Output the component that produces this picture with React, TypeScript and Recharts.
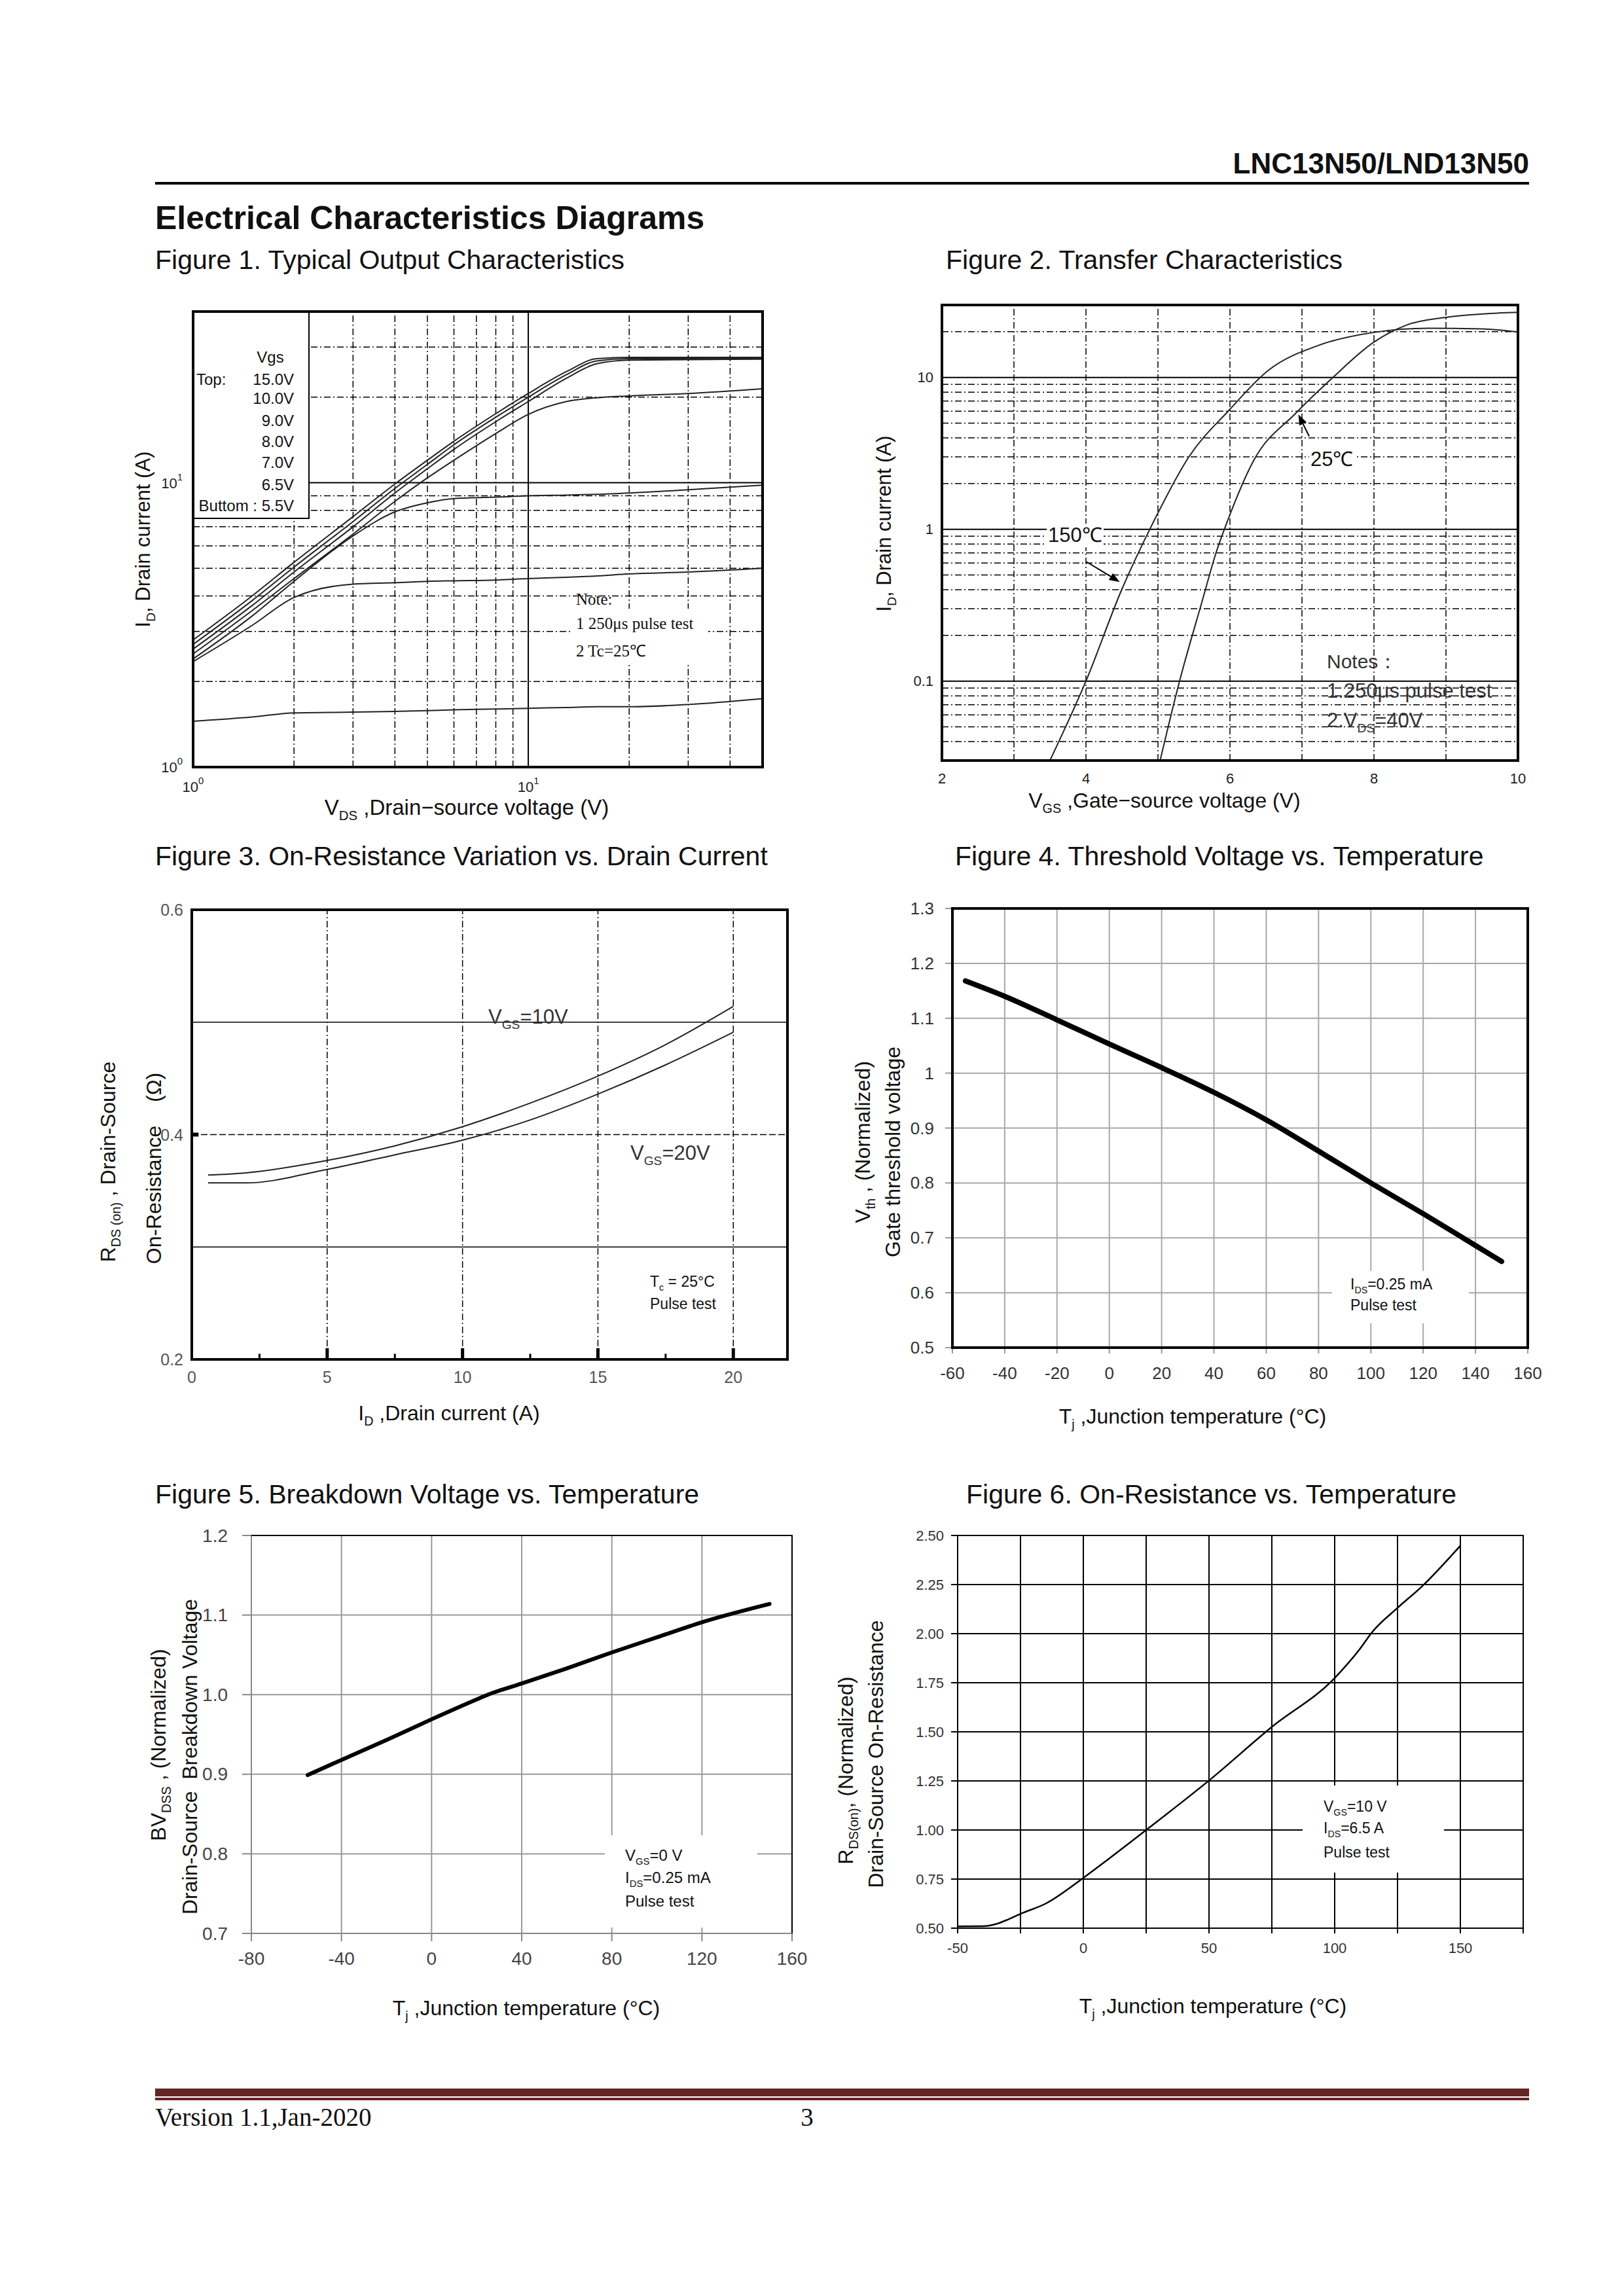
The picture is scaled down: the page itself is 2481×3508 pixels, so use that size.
import React from "react";
import type { CSSProperties, ReactNode } from "react";
import { LineChart, Line, XAxis, YAxis, CartesianGrid, ReferenceLine } from "recharts";

const FONT = "'Liberation Sans', Arial, Helvetica, sans-serif";
const SERIF = "'Liberation Serif', 'Times New Roman', serif";

// ---------- data ----------
// Figure 1: output characteristics (log-log)
const fig1Vds = [1, 1.5, 2, 3, 4, 5, 6, 8, 10, 13, 16, 20, 30, 50];
const fig1Id150 = [2.8, 4.0, 5.25, 7.6, 9.9, 12.0, 14.0, 17.5, 20.6, 24.6, 27.3, 27.6, 27.6, 27.6];
const fig1Id100 = [2.7, 3.85, 5.05, 7.3, 9.55, 11.6, 13.6, 17.0, 20.0, 24.0, 26.8, 27.3, 27.3, 27.4];
const fig1Id90 = [2.6, 3.7, 4.85, 7.0, 9.2, 11.2, 13.1, 16.4, 19.3, 23.3, 26.2, 27.0, 27.1, 27.2];
const fig1Id80 = [2.5, 3.55, 4.6, 6.6, 8.6, 10.4, 12.0, 14.9, 17.4, 19.3, 19.9, 20.2, 20.6, 21.4];
const fig1Id70 = [2.4, 3.4, 4.5, 6.5, 7.9, 8.5, 8.8, 8.9, 9.0, 9.05, 9.1, 9.2, 9.45, 9.8];
const fig1Id65 = [2.35, 3.15, 3.95, 4.4, 4.45, 4.5, 4.52, 4.55, 4.6, 4.65, 4.7, 4.78, 4.85, 5.0];
const fig1Id55 = [1.45, 1.5, 1.55, 1.56, 1.57, 1.58, 1.59, 1.6, 1.61, 1.62, 1.63, 1.63, 1.66, 1.74];
const fig1Legend = ["15.0V", "10.0V", "9.0V", "8.0V", "7.0V", "6.5V"];
const fig1Ticks = [1, 10];
const fig1GridX = [2, 3, 4, 5, 6, 7, 8, 9, 20, 30, 40];
const fig1GridY = [2, 3, 4, 5, 6, 7, 8, 9, 20, 30];

// Figure 2: transfer characteristics
const fig2Vgs25 = [5.03, 5.3, 5.62, 5.8, 6.0, 6.33, 6.91, 7.41, 8.0, 8.46, 8.95, 9.5, 10];
const fig2Id25 = [0.03, 0.1, 0.344, 0.684, 1.25, 2.84, 5.79, 9.8, 17.1, 22.2, 24.7, 26.2, 26.8];
const fig2Vgs150 = [3.5, 4.0, 4.5, 4.93, 5.43, 5.99, 6.54, 7.22, 8.0, 8.76, 9.5, 10];
const fig2Id150 = [0.03, 0.1, 0.404, 1.1, 3.0, 6.1, 11.2, 16.2, 19.8, 21.1, 20.9, 19.9];
const fig2XTicks = [2, 4, 6, 8, 10];
const fig2YTicks = [0.1, 1, 10];
const fig2GridX = [3, 4, 5, 6, 7, 8, 9];
const fig2GridYSolid = [0.1, 1, 10];
const fig2GridYDash = [0.04, 0.05, 0.06, 0.07, 0.08, 0.09, 0.2, 0.3, 0.4, 0.5, 0.6, 0.7, 0.8, 0.9, 2, 3, 4, 5, 6, 7, 8, 9, 20];
const fig2Arrow25 = [{ x: 7.1, y: 4.1 }, { x: 6.95, y: 5.7 }];
const fig2Arrow150 = [{ x: 4.01, y: 0.61 }, { x: 4.47, y: 0.45 }];

// Figure 3: on-resistance vs drain current
const fig3Id = [0.6, 2, 5, 7.5, 10, 12.5, 15, 17.5, 20];
const fig3R10 = [0.364, 0.366, 0.377, 0.39, 0.407, 0.428, 0.452, 0.48, 0.514];
const fig3R20 = [0.357, 0.357, 0.369, 0.382, 0.395, 0.413, 0.436, 0.462, 0.491];
const fig3XTicks = [0, 5, 10, 15, 20];
const fig3YTicks = [0.2, 0.4, 0.6];
const fig3GridX = [5, 10, 15, 20];
const fig3MinorX = [2.5, 7.5, 12.5, 17.5];

// Figure 4: threshold voltage vs temperature
const fig4T = [-55, -40, -20, 0, 20, 40, 60, 80, 100, 120, 140, 150];
const fig4Vth = [1.168, 1.14, 1.097, 1.053, 1.01, 0.965, 0.915, 0.858, 0.8, 0.744, 0.686, 0.657];
const fig4XTicks = [-60, -40, -20, 0, 20, 40, 60, 80, 100, 120, 140, 160];
const fig4YTicks = [0.5, 0.6, 0.7, 0.8, 0.9, 1.0, 1.1, 1.2, 1.3];

// Figure 5: breakdown voltage vs temperature
const fig5T = [-55, -40, -20, 0, 20, 25, 40, 60, 80, 100, 120, 150];
const fig5Bv = [0.899, 0.918, 0.943, 0.969, 0.994, 1.0, 1.014, 1.033, 1.053, 1.072, 1.091, 1.114];
const fig5XTicks = [-80, -40, 0, 40, 80, 120, 160];
const fig5YTicks = [0.7, 0.8, 0.9, 1.0, 1.1, 1.2];

// Figure 6: on-resistance vs temperature
const fig6T = [-50, -40, -35, -30, -25, -15, 0, 10, 25, 50, 75, 100, 110, 115, 125, 135, 150];
const fig6R = [0.509, 0.51, 0.52, 0.544, 0.573, 0.625, 0.756, 0.852, 1.0, 1.252, 1.525, 1.774, 1.922, 2.009, 2.131, 2.244, 2.448];
const fig6XTicks = [-50, -25, 0, 25, 50, 75, 100, 125, 150, 175];
const fig6YTicks = [0.5, 0.75, 1.0, 1.25, 1.5, 1.75, 2.0, 2.25, 2.5];

const rows = (xs: number[], ys: number[]) => xs.map((x, i) => ({ x, y: ys[i] }));

// ---------- layout helpers ----------
type Box = { L: number; T: number; W: number; H: number };
const PAD = { l: 150, t: 30, r: 30, b: 80 };

const fig1Box: Box = { L: 295, T: 476, W: 870, H: 696 };
const fig2Box: Box = { L: 1439, T: 466, W: 880, H: 696 };
const fig3Box: Box = { L: 293, T: 1390, W: 910, H: 687 };
const fig4Box: Box = { L: 1455, T: 1388, W: 879, H: 671 };
const fig5Box: Box = { L: 384, T: 2346, W: 826, H: 608 };
const fig6Box: Box = { L: 1463, T: 2346, W: 864, H: 600 };

type TickOpt = {
  size: number;
  color?: string;
  fmt?: (v: number) => string;
  dx?: number;
  dy?: number;
  anchor?: "start" | "middle" | "end";
  pow?: boolean;
};

const tick = (o: TickOpt) => (p: any) => {
  const v = p.payload.value;
  const s = o.fmt ? o.fmt(v) : String(v);
  if (s === "") return <g />;
  const x = p.x + (o.dx ?? 0);
  const y = p.y + (o.dy ?? 0);
  const common = {
    x,
    y,
    textAnchor: o.anchor ?? "middle",
    dominantBaseline: "central" as const,
    fontSize: o.size,
    fill: o.color ?? "#222",
    fontFamily: FONT,
  };
  if (o.pow) {
    return (
      <text {...common}>
        <tspan>10</tspan>
        <tspan dy={-o.size * 0.45} fontSize={o.size * 0.68}>
          {s}
        </tspan>
      </text>
    );
  }
  return <text {...common}>{s}</text>;
};

const Arrow = (p: any) => {
  const { x1, y1, x2, y2 } = p;
  const a = Math.atan2(y2 - y1, x2 - x1);
  const len = 16;
  const w = 6;
  const bx = x2 - len * Math.cos(a);
  const by = y2 - len * Math.sin(a);
  const pts = `${x2},${y2} ${bx - w * Math.sin(a)},${by + w * Math.cos(a)} ${bx + w * Math.sin(a)},${by - w * Math.cos(a)}`;
  return (
    <g>
      <line x1={x1} y1={y1} x2={bx} y2={by} stroke="#000" strokeWidth={2} />
      <polygon points={pts} fill="#000" />
    </g>
  );
};

function Frame({ box, children }: { box: Box; children: ReactNode }) {
  return (
    <div style={{ position: "absolute", left: box.L - PAD.l, top: box.T - PAD.t }}>
      <LineChart
        width={box.W + PAD.l + PAD.r}
        height={box.H + PAD.t + PAD.b}
        margin={{ top: PAD.t, right: PAD.r, bottom: 0, left: 0 }}
      >
        {children}
      </LineChart>
    </div>
  );
}

function Border({ box, w, style }: { box: Box; w: number; style?: CSSProperties }) {
  return (
    <div
      style={{
        position: "absolute",
        left: box.L - w / 2,
        top: box.T - w / 2,
        width: box.W + w,
        height: box.H + w,
        border: `${w}px solid #000`,
        boxSizing: "border-box",
        ...style,
      }}
    />
  );
}

function Txt({
  x,
  y,
  size,
  children,
  anchor = "start",
  family = FONT,
  weight = 400,
  color = "#111",
  style,
}: {
  x: number;
  y: number;
  size: number;
  children: ReactNode;
  anchor?: "start" | "middle" | "end";
  family?: string;
  weight?: number;
  color?: string;
  style?: CSSProperties;
}) {
  const tx = anchor === "middle" ? "-50%" : anchor === "end" ? "-100%" : "0";
  return (
    <div
      style={{
        position: "absolute",
        left: x,
        top: y,
        transform: `translate(${tx}, -50%)`,
        fontSize: size,
        fontFamily: family,
        fontWeight: weight,
        color,
        whiteSpace: "pre",
        lineHeight: 1.15,
        ...style,
      }}
    >
      {children}
    </div>
  );
}

function VTxt({ x, y, size, children }: { x: number; y: number; size: number; children: ReactNode }) {
  return (
    <div
      style={{
        position: "absolute",
        left: x,
        top: y,
        transform: "translate(-50%, -50%) rotate(-90deg)",
        fontSize: size,
        fontFamily: FONT,
        color: "#111",
        whiteSpace: "pre",
        lineHeight: 1.15,
      }}
    >
      {children}
    </div>
  );
}

function WhiteBox({ x1, y1, x2, y2 }: { x1: number; y1: number; x2: number; y2: number }) {
  return (
    <div style={{ position: "absolute", left: x1, top: y1, width: x2 - x1, height: y2 - y1, background: "#fff" }} />
  );
}

const Sub = ({ children }: { children: ReactNode }) => (
  <span style={{ fontSize: "0.62em", position: "relative", top: "0.4em" }}>{children}</span>
);

const DASH = "10 4 2 4";

// ---------- figures ----------
function Figure1() {
  const b = fig1Box;
  return (
    <>
      <Frame box={b}>
        <XAxis
          type="number"
          dataKey="x"
          scale="log"
          domain={[1, 50]}
          allowDataOverflow
          ticks={fig1Ticks}
          interval={0}
          axisLine={false}
          tickLine={false}
          tickSize={0}
          tickMargin={0}
          height={PAD.b}
          tick={tick({ size: 22, pow: true, dy: 30, fmt: (v) => String(Math.round(Math.log10(v))) })}
        />
        <YAxis
          type="number"
          scale="log"
          domain={[1, 40]}
          allowDataOverflow
          ticks={fig1Ticks}
          interval={0}
          axisLine={false}
          tickLine={false}
          tickSize={0}
          tickMargin={0}
          width={PAD.l}
          tick={tick({ size: 22, pow: true, anchor: "end", dx: -16, fmt: (v) => String(Math.round(Math.log10(v))) })}
        />
        {fig1GridX.map((v) => (
          <ReferenceLine key={"gx" + v} x={v} stroke="#000" strokeWidth={1.5} strokeDasharray={DASH} />
        ))}
        {fig1GridY.map((v) => (
          <ReferenceLine key={"gy" + v} y={v} stroke="#000" strokeWidth={1.5} strokeDasharray={DASH} />
        ))}
        <ReferenceLine x={10} stroke="#000" strokeWidth={2} />
        <ReferenceLine y={10} stroke="#000" strokeWidth={2} />
        {[fig1Id150, fig1Id100, fig1Id90, fig1Id80, fig1Id70, fig1Id65, fig1Id55].map((ys, i) => (
          <Line
            key={i}
            data={rows(fig1Vds, ys)}
            dataKey="y"
            type="monotone"
            stroke="#222"
            strokeWidth={2}
            dot={false}
            isAnimationActive={false}
          />
        ))}
      </Frame>
      {/* legend box */}
      <div
        style={{
          position: "absolute",
          left: b.L,
          top: b.T,
          width: 473 - b.L,
          height: 793 - b.T,
          background: "#fff",
          border: "2px solid #000",
          boxSizing: "border-box",
        }}
      />
      <Txt x={413} y={546} size={24} anchor="middle">Vgs</Txt>
      <Txt x={300} y={580} size={24}>Top:</Txt>
      {fig1Legend.map((s, i) => (
        <Txt key={s} x={449} y={[580, 609, 643, 675, 707, 741][i]} size={24} anchor="end">
          {s}
        </Txt>
      ))}
      <Txt x={449} y={773} size={24} anchor="end">Buttom : 5.5V</Txt>
      {/* note */}
      <WhiteBox x1={874} y1={930} x2={1082} y2={1012} />
      <Txt x={880} y={916} size={25} family={SERIF}>Note:</Txt>
      <Txt x={880} y={953} size={25} family={SERIF}>1 250μs pulse test</Txt>
      <Txt x={880} y={995} size={25} family={SERIF}>2 Tc=25℃</Txt>
      <Border box={b} w={4} />
      <VTxt x={219} y={824} size={31}>
        I<Sub>D</Sub>, Drain current (A)
      </VTxt>
      <Txt x={713} y={1234} size={33} anchor="middle">
        V<Sub>DS</Sub> ,Drain−source voltage (V)
      </Txt>
    </>
  );
}

function Figure2() {
  const b = fig2Box;
  return (
    <>
      <Frame box={b}>
        <XAxis
          type="number"
          dataKey="x"
          domain={[2, 10]}
          allowDataOverflow
          ticks={fig2XTicks}
          interval={0}
          axisLine={false}
          tickLine={false}
          tickSize={0}
          tickMargin={0}
          height={PAD.b}
          tick={tick({ size: 22, dy: 27 })}
        />
        <YAxis
          type="number"
          scale="log"
          domain={[0.03, 30]}
          allowDataOverflow
          ticks={fig2YTicks}
          interval={0}
          axisLine={false}
          tickLine={false}
          tickSize={0}
          tickMargin={0}
          width={PAD.l}
          tick={tick({ size: 22, anchor: "end", dx: -13 })}
        />
        {fig2GridX.map((v) => (
          <ReferenceLine key={"gx" + v} x={v} stroke="#000" strokeWidth={1.5} strokeDasharray={DASH} />
        ))}
        {fig2GridYDash.map((v) => (
          <ReferenceLine key={"gy" + v} y={v} stroke="#000" strokeWidth={1.5} strokeDasharray={DASH} />
        ))}
        {fig2GridYSolid.map((v) => (
          <ReferenceLine key={"gs" + v} y={v} stroke="#000" strokeWidth={2} />
        ))}
        <Line data={rows(fig2Vgs25, fig2Id25)} dataKey="y" type="monotone" stroke="#222" strokeWidth={2} dot={false} isAnimationActive={false} />
        <Line data={rows(fig2Vgs150, fig2Id150)} dataKey="y" type="monotone" stroke="#222" strokeWidth={2} dot={false} isAnimationActive={false} />
        <ReferenceLine segment={fig2Arrow25} shape={Arrow} />
        <ReferenceLine segment={fig2Arrow150} shape={Arrow} />
      </Frame>
      <Txt x={2000} y={702} size={31} style={{ background: "#fff", padding: "0 2px" }}>25℃</Txt>
      <Txt x={1599} y={818} size={31} style={{ background: "#fff", padding: "0 2px" }}>150℃</Txt>
      <Txt x={2027} y={1011} size={30} color="#333">Notes：</Txt>
      <Txt x={2027} y={1056} size={31} color="#333">1.250μs pulse test</Txt>
      <Txt x={2027} y={1101} size={31} color="#333">
        2.V<Sub>DS</Sub>=40V
      </Txt>
      <Border box={b} w={4} />
      <VTxt x={1351} y={800} size={31}>
        I<Sub>D</Sub>, Drain current (A)
      </VTxt>
      <Txt x={1779} y={1223} size={32} anchor="middle">
        V<Sub>GS</Sub> ,Gate−source voltage (V)
      </Txt>
    </>
  );
}

function Figure3() {
  const b = fig3Box;
  return (
    <>
      <Frame box={b}>
        <XAxis
          type="number"
          dataKey="x"
          domain={[0, 22]}
          allowDataOverflow
          ticks={fig3XTicks}
          interval={0}
          axisLine={false}
          tickLine={false}
          tickSize={0}
          tickMargin={0}
          height={PAD.b}
          tick={tick({ size: 25, color: "#555", dy: 27 })}
        />
        <YAxis
          type="number"
          domain={[0.2, 0.6]}
          allowDataOverflow
          ticks={fig3YTicks}
          interval={0}
          axisLine={false}
          tickLine={false}
          tickSize={0}
          tickMargin={0}
          width={PAD.l}
          tick={tick({ size: 25, color: "#555", anchor: "end", dx: -13 })}
        />
        {fig3GridX.map((v) => (
          <ReferenceLine key={"gx" + v} x={v} stroke="#000" strokeWidth={1.5} strokeDasharray={DASH} />
        ))}
        {fig3GridX.map((v) => (
          <ReferenceLine key={"mj" + v} segment={[{ x: v, y: 0.2 }, { x: v, y: 0.21 }]} stroke="#000" strokeWidth={5} />
        ))}
        {fig3MinorX.map((v) => (
          <ReferenceLine key={"mn" + v} segment={[{ x: v, y: 0.2 }, { x: v, y: 0.205 }]} stroke="#000" strokeWidth={3} />
        ))}
        <ReferenceLine segment={[{ x: 0, y: 0.4 }, { x: 0.25, y: 0.4 }]} stroke="#000" strokeWidth={6} />
        <ReferenceLine y={0.3} stroke="#000" strokeWidth={1.5} />
        <ReferenceLine y={0.5} stroke="#000" strokeWidth={1.5} />
        <ReferenceLine y={0.4} stroke="#000" strokeWidth={1.5} strokeDasharray="10 4" />
        <Line data={rows(fig3Id, fig3R10)} dataKey="y" type="monotone" stroke="#222" strokeWidth={2} dot={false} isAnimationActive={false} />
        <Line data={rows(fig3Id, fig3R20)} dataKey="y" type="monotone" stroke="#222" strokeWidth={2} dot={false} isAnimationActive={false} />
      </Frame>
      <Txt x={746} y={1554} size={31} color="#333">
        V<Sub>GS</Sub>=10V
      </Txt>
      <Txt x={963} y={1762} size={31} color="#333">
        V<Sub>GS</Sub>=20V
      </Txt>
      <Txt x={993} y={1958} size={23}>
        T<Sub>c</Sub> = 25°C
      </Txt>
      <Txt x={993} y={1992} size={23}>Pulse test</Txt>
      <Border box={b} w={4} />
      <VTxt x={165} y={1775} size={32}>
        R<Sub>DS (on)</Sub> , Drain-Source
      </VTxt>
      <VTxt x={235} y={1785} size={32}>{"On-Resistance    (Ω)"}</VTxt>
      <Txt x={686} y={2159} size={32} anchor="middle">
        I<Sub>D</Sub> ,Drain current (A)
      </Txt>
    </>
  );
}

function Figure4() {
  const b = fig4Box;
  return (
    <>
      <Frame box={b}>
        <CartesianGrid stroke="#a8a8a8" strokeWidth={2} />
        <XAxis
          type="number"
          dataKey="x"
          domain={[-60, 160]}
          allowDataOverflow
          ticks={fig4XTicks}
          interval={0}
          axisLine={false}
          tickLine={{ stroke: "#999", strokeWidth: 2 }}
          tickSize={9}
          tickMargin={0}
          height={PAD.b}
          tick={tick({ size: 26, color: "#333", dy: 30 })}
        />
        <YAxis
          type="number"
          domain={[0.5, 1.3]}
          allowDataOverflow
          ticks={fig4YTicks}
          interval={0}
          axisLine={false}
          tickLine={{ stroke: "#999", strokeWidth: 2 }}
          tickSize={11}
          tickMargin={0}
          width={PAD.l}
          tick={tick({ size: 26, color: "#333", anchor: "end", dx: -17, fmt: (v) => (v === 1 ? "1" : v.toFixed(1)) })}
        />
        <Line data={rows(fig4T, fig4Vth)} dataKey="y" type="monotone" stroke="#000" strokeWidth={8} strokeLinecap="round" dot={false} isAnimationActive={false} />
      </Frame>
      <WhiteBox x1={2035} y1={1942} x2={2244} y2={2022} />
      <Txt x={2063} y={1962} size={23}>
        I<Sub>DS</Sub>=0.25 mA
      </Txt>
      <Txt x={2063} y={1994} size={23}>Pulse test</Txt>
      <Border box={b} w={4} />
      <VTxt x={1318} y={1745} size={32}>
        V<Sub>th</Sub> , (Normalized)
      </VTxt>
      <VTxt x={1364} y={1760} size={32}>Gate threshold voltage</VTxt>
      <Txt x={1822} y={2164} size={32} anchor="middle">
        T<Sub>j</Sub> ,Junction temperature (°C)
      </Txt>
    </>
  );
}

function Figure5() {
  const b = fig5Box;
  return (
    <>
      <Frame box={b}>
        <CartesianGrid stroke="#999" strokeWidth={2} />
        <XAxis
          type="number"
          dataKey="x"
          domain={[-80, 160]}
          allowDataOverflow
          ticks={fig5XTicks}
          interval={0}
          axisLine={false}
          tickLine={{ stroke: "#888", strokeWidth: 2 }}
          tickSize={12}
          tickMargin={0}
          height={PAD.b}
          tick={tick({ size: 28, color: "#444", dy: 26 })}
        />
        <YAxis
          type="number"
          domain={[0.7, 1.2]}
          allowDataOverflow
          ticks={fig5YTicks}
          interval={0}
          axisLine={false}
          tickLine={{ stroke: "#888", strokeWidth: 2 }}
          tickSize={14}
          tickMargin={0}
          width={PAD.l}
          tick={tick({ size: 28, color: "#444", anchor: "end", dx: -22, fmt: (v) => v.toFixed(1) })}
        />
        <Line data={rows(fig5T, fig5Bv)} dataKey="y" type="monotone" stroke="#000" strokeWidth={6} strokeLinecap="round" dot={false} isAnimationActive={false} />
      </Frame>
      <WhiteBox x1={924} y1={2804} x2={1157} y2={2945} />
      <Txt x={955} y={2835} size={24}>
        V<Sub>GS</Sub>=0 V
      </Txt>
      <Txt x={955} y={2869} size={24}>
        I<Sub>DS</Sub>=0.25 mA
      </Txt>
      <Txt x={955} y={2905} size={24}>Pulse test</Txt>
      <Border
        box={b}
        w={2}
        style={{ borderLeftColor: "#888", borderBottomColor: "#888" }}
      />
      <VTxt x={242} y={2666} size={32}>
        BV<Sub>DSS</Sub> , (Normalized)
      </VTxt>
      <VTxt x={290} y={2684} size={32}>{"Drain-Source  Breakdown Voltage"}</VTxt>
      <Txt x={804} y={3068} size={32} anchor="middle">
        T<Sub>j</Sub> ,Junction temperature (°C)
      </Txt>
    </>
  );
}

function Figure6() {
  const b = fig6Box;
  return (
    <>
      <Frame box={b}>
        <CartesianGrid stroke="#000" strokeWidth={2} />
        <XAxis
          type="number"
          dataKey="x"
          domain={[-50, 175]}
          allowDataOverflow
          ticks={fig6XTicks}
          interval={0}
          axisLine={false}
          tickLine={{ stroke: "#000", strokeWidth: 2 }}
          tickSize={8}
          tickMargin={0}
          height={PAD.b}
          tick={tick({ size: 22, color: "#333", dy: 22, fmt: (v) => (v % 50 === 0 && v <= 150 ? String(v) : "") })}
        />
        <YAxis
          type="number"
          domain={[0.5, 2.5]}
          allowDataOverflow
          ticks={fig6YTicks}
          interval={0}
          axisLine={false}
          tickLine={{ stroke: "#000", strokeWidth: 2 }}
          tickSize={10}
          tickMargin={0}
          width={PAD.l}
          tick={tick({ size: 22, color: "#333", anchor: "end", dx: -11, fmt: (v) => v.toFixed(2) })}
        />
        <Line data={rows(fig6T, fig6R)} dataKey="y" type="monotone" stroke="#000" strokeWidth={2.5} dot={false} isAnimationActive={false} />
      </Frame>
      <WhiteBox x1={1990} y1={2728} x2={2206} y2={2861} />
      <Txt x={2022} y={2760} size={23}>
        V<Sub>GS</Sub>=10 V
      </Txt>
      <Txt x={2022} y={2793} size={23}>
        I<Sub>DS</Sub>=6.5 A
      </Txt>
      <Txt x={2022} y={2830} size={23}>Pulse test</Txt>
      <Border box={b} w={2} />
      <VTxt x={1292} y={2705} size={32}>
        R<Sub>DS(on)</Sub>, (Normalized)
      </VTxt>
      <VTxt x={1338} y={2680} size={32}>Drain-Source On-Resistance</VTxt>
      <Txt x={1853} y={3065} size={32} anchor="middle">
        T<Sub>j</Sub> ,Junction temperature (°C)
      </Txt>
    </>
  );
}

export default function App() {
  return (
    <div
      style={{
        position: "absolute",
        left: 0,
        top: 0,
        width: 2481,
        height: 3508,
        background: "#fff",
        overflow: "hidden",
        fontFamily: FONT,
      }}
    >
      {/* page header */}
      <Txt x={2336} y={250} size={44} weight={700} anchor="end">LNC13N50/LND13N50</Txt>
      <div style={{ position: "absolute", left: 237, top: 278, width: 2099, height: 4, background: "#000" }} />
      <Txt x={237} y={334} size={50} weight={700}>Electrical Characteristics Diagrams</Txt>

      <Txt x={237} y={398} size={41}>Figure 1. Typical Output Characteristics</Txt>
      <Txt x={1445} y={398} size={41}>Figure 2. Transfer Characteristics</Txt>
      <Txt x={237} y={1309} size={41}>Figure 3. On-Resistance Variation vs. Drain Current</Txt>
      <Txt x={1459} y={1309} size={41}>Figure 4. Threshold Voltage vs. Temperature</Txt>
      <Txt x={237} y={2284} size={41}>Figure 5. Breakdown Voltage vs. Temperature</Txt>
      <Txt x={1476} y={2284} size={41}>Figure 6. On-Resistance vs. Temperature</Txt>

      <Figure1 />
      <Figure2 />
      <Figure3 />
      <Figure4 />
      <Figure5 />
      <Figure6 />

      {/* footer */}
      <div style={{ position: "absolute", left: 237, top: 3191, width: 2099, height: 12, background: "#662525" }} />
      <div style={{ position: "absolute", left: 237, top: 3205, width: 2099, height: 4, background: "#662525" }} />
      <Txt x={237} y={3235} size={39} family={SERIF}>Version 1.1,Jan-2020</Txt>
      <Txt x={1233} y={3235} size={39} family={SERIF} anchor="middle">3</Txt>
    </div>
  );
}
